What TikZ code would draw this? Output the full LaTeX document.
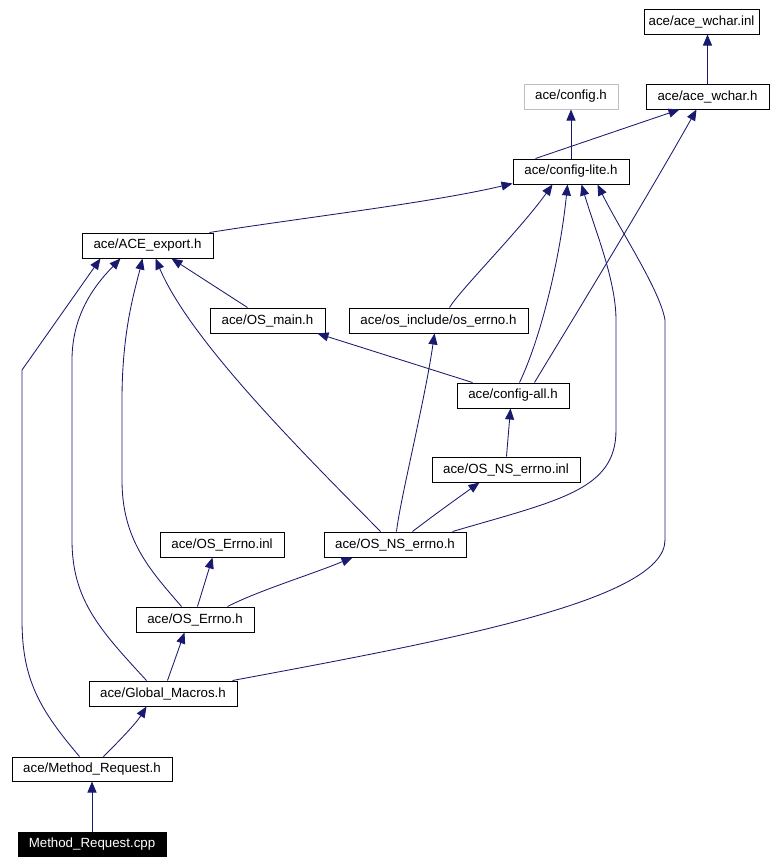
\documentclass[tikz,border=0pt]{standalone}
\usepackage{fontspec}
\setmainfont{Liberation Sans}
\usetikzlibrary{arrows.meta}
\definecolor{edgec}{HTML}{191970}
\definecolor{grayb}{HTML}{BFBFBF}
\tikzset{
  box/.style={draw=black, line width=1pt, fill=white, inner sep=0pt, minimum height=25pt, font=\fontsize{13.3}{16}\selectfont, anchor=center},
  dep/.style={draw=edgec, line width=0.85pt, -{Triangle[length=11pt,width=9pt]}},
}
\begin{document}
\begin{tikzpicture}[x=1pt,y=-1pt]
\useasboundingbox (0,0) rectangle (779,863);
\node[box, minimum width=115pt] (wchinl) at (701.5,21.5) {ace/ace\_wchar.inl};
\node[box, minimum width=123pt] (wchh) at (707.5,96.5) {ace/ace\_wchar.h};
\node[box, draw=grayb, minimum width=94pt] (config) at (571,96.5) {ace/config.h};
\node[box, minimum width=116pt] (lite) at (571,171.5) {ace/config-lite.h};
\node[box, minimum width=131pt] (export) at (147.5,245.5) {ace/ACE\_export.h};
\node[box, minimum width=115pt] (osmain) at (267.5,320.5) {ace/OS\_main.h};
\node[box, minimum width=179pt] (oserrno) at (438.5,320.5) {ace/os\_include/os\_errno.h};
\node[box, minimum width=112pt] (all) at (513,395.5) {ace/config-all.h};
\node[box, minimum width=148pt] (nsinl) at (506,469.5) {ace/OS\_NS\_errno.inl};
\node[box, minimum width=124pt] (errinl) at (222,544.5) {ace/OS\_Errno.inl};
\node[box, minimum width=142pt] (nsh) at (395,544.5) {ace/OS\_NS\_errno.h};
\node[box, minimum width=118pt] (errh) at (195,619.5) {ace/OS\_Errno.h};
\node[box, minimum width=148pt] (glob) at (163,693.5) {ace/Global\_Macros.h};
\node[box, minimum width=160pt, minimum height=24pt] (mrh) at (92,769) {ace/Method\_Request.h};
\node[box, fill=black, text=white, minimum width=148pt, minimum height=24pt] (cpp) at (92,844) {Method\_Request.cpp};

% edges
\draw[dep] (wchh.north) -- (wchh.north |- wchinl.south);
\draw[dep] (lite.north) -- (config.south);
\draw[dep] ([xshift=23pt]lite.north west) -- ([xshift=34pt]wchh.south west);
\draw[dep] ([xshift=78pt]all.north west) .. controls (548,360) and (640,210) .. ([xshift=51pt]wchh.south west);
\draw[dep] ([xshift=128pt]export.north west) .. controls (300,218) and (430,203) .. ([yshift=1pt]lite.south west);
\draw[dep] ([xshift=101pt]oserrno.north west) .. controls (460,290) and (520,230) .. ([xshift=40pt]lite.south west);
\draw[dep] ([xshift=63pt]all.north west) .. controls (540,340) and (560,260) .. ([xshift=55pt]lite.south west);
\draw[dep] ([xshift=129pt]nsh.north west) .. controls (560,500) and (616,490) .. (616,430) -- (616,320) .. controls (616,280) and (595,230) .. ([xshift=69pt]lite.south west);
\draw[dep] ([xshift=144pt]glob.north west) .. controls (450,640) and (665,600) .. (665,540) -- (665,320) .. controls (660,290) and (620,230) .. ([xshift=85pt]lite.south west);
\draw[dep] ([xshift=38pt]osmain.north west) -- ([xshift=90pt]export.south west);
\draw[dep] ([xshift=57pt]nsh.north west) .. controls (300,450) and (190,340) .. ([xshift=74pt]export.south west);
\draw[dep] ([xshift=46pt]errh.north west) .. controls (150,570) and (122,540) .. (122,480) -- (122,400) .. controls (122,330) and (135,290) .. ([xshift=61pt]export.south west);
\draw[dep] ([xshift=58pt]glob.north west) .. controls (100,630) and (72,600) .. (72,540) -- (72,360) .. controls (72,310) and (100,280) .. ([xshift=39pt]export.south west);
\draw[dep] ([xshift=68pt]mrh.north west) .. controls (40,710) and (22,680) .. (22,620) -- (22,370) -- ([xshift=19pt]export.south west);
\draw[dep] ([xshift=16pt]all.north west) -- ([xshift=108pt]osmain.south west);
\draw[dep] ([xshift=73pt]nsh.north west) .. controls (400,500) and (425,400) .. ([xshift=86pt]oserrno.south west);
\draw[dep] ([xshift=75pt]nsinl.north west) -- ([xshift=54pt]all.south west);
\draw[dep] ([xshift=89pt]nsh.north west) .. controls (430,518) and (455,500) .. ([xshift=48pt]nsinl.south west);
\draw[dep] ([xshift=62pt]errh.north west) -- ([xshift=53pt]errinl.south west);
\draw[dep] ([xshift=92pt]errh.north west) .. controls (260,590) and (310,575) .. ([xshift=29pt]nsh.south west);
\draw[dep] ([xshift=79pt]glob.north west) -- ([xshift=49pt]errh.south west);
\draw[dep] ([xshift=92pt]mrh.north west) .. controls (115,745) and (135,725) .. ([xshift=58pt]glob.south west);
\draw[dep] (cpp.north) -- (mrh.south);
\end{tikzpicture}
\end{document}
